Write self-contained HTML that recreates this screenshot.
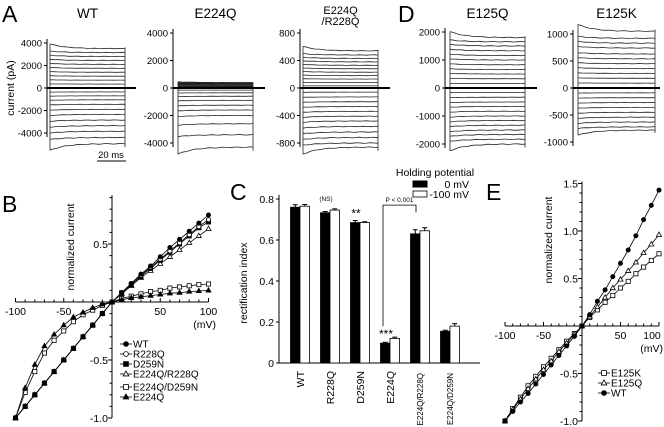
<!DOCTYPE html>
<html><head><meta charset="utf-8"><style>
html,body{margin:0;padding:0;background:#fff}
svg{display:block;font-family:"Liberation Sans",Arial,sans-serif}
</style></head><body>
<svg id="fig" width="664" height="427" viewBox="0 0 664 427" xmlns="http://www.w3.org/2000/svg">
<g font-size="23" fill="#000">
<text x="2" y="22">A</text>
<text x="398" y="22">D</text>
<text x="2" y="212">B</text>
<text x="230" y="200">C</text>
<text x="486" y="200">E</text>
</g>
<g id="traces"></g><g id="ivb"></g><g id="barc"></g><g id="ive"></g>
</svg>
<script>
// ---------- DATA ----------
const traceWT=[3500,3150,2800,2450,2100,1750,1400,1050,700,350,-350,-700,-1050,-1450,-1900,-2350,-2850,-3350,-3850,-4400,-4950];
const traceE224Q=[400,370,340,300,260,220,180,130,80,40,-150,-350,-600,-900,-1250,-1600,-2000,-2600,-3400,-4300];
const traceE224QR228Q=[540,480,430,380,330,280,230,180,130,80,30,-60,-130,-200,-270,-340,-410,-480,-560,-640,-720,-800,-860];
const traceE125Q=[1800,1650,1500,1330,1160,1000,830,660,500,330,160,-160,-330,-500,-660,-830,-1000,-1160,-1330,-1500,-1660,-1830,-2000];
const traceE125K=[1050,920,830,740,630,540,450,360,270,180,90,-90,-180,-270,-360,-450,-540,-630,-720,-780];
const mV=[-100,-90,-80,-70,-60,-50,-40,-30,-20,-10,0,10,20,30,40,50,60,70,80,90,100];
const bWT=[-1,-0.9,-0.8,-0.7,-0.6,-0.5,-0.4,-0.3,-0.2,-0.1,0,0.08,0.16,0.24,0.31,0.39,0.47,0.54,0.61,0.68,0.75];
const bR228Q=[-1,-0.9,-0.8,-0.7,-0.6,-0.5,-0.4,-0.3,-0.2,-0.1,0,0.08,0.16,0.23,0.3,0.37,0.44,0.51,0.58,0.65,0.71];
const bD259N=[-1,-0.9,-0.8,-0.7,-0.6,-0.5,-0.4,-0.3,-0.2,-0.1,0,0.08,0.15,0.22,0.29,0.36,0.43,0.5,0.57,0.64,0.69];
const bE224QR228Q=[-1,-0.9,-0.8,-0.7,-0.6,-0.5,-0.4,-0.3,-0.2,-0.1,0,0.07,0.14,0.21,0.27,0.33,0.39,0.45,0.51,0.57,0.63];
const bE224QD259N=[-1,-0.78,-0.6,-0.44,-0.33,-0.25,-0.17,-0.11,-0.07,-0.03,0,0.03,0.05,0.07,0.09,0.1,0.12,0.13,0.14,0.15,0.155];
const bE224Q=[-1,-0.74,-0.54,-0.38,-0.28,-0.2,-0.13,-0.09,-0.05,-0.02,0,0.02,0.035,0.045,0.055,0.065,0.075,0.08,0.09,0.095,0.1];
const cCats=["WT","R228Q","D259N","E224Q","E224Q/R228Q","E224Q/D259N"];
const c0mV=[0.76,0.733,0.685,0.097,0.63,0.155];
const c100mV=[0.765,0.746,0.685,0.12,0.645,0.18];
const cErr0=[0.012,0.006,0.01,0.004,0.02,0.005];
const cErr100=[0.008,0.006,0.004,0.006,0.015,0.012];
const eWT=[-1,-0.9,-0.8,-0.71,-0.61,-0.51,-0.41,-0.31,-0.21,-0.11,0,0.12,0.26,0.38,0.52,0.66,0.8,0.95,1.12,1.27,1.43];
const eE125Q=[-1,-0.88,-0.77,-0.66,-0.56,-0.46,-0.37,-0.27,-0.18,-0.09,0,0.1,0.2,0.3,0.4,0.49,0.58,0.67,0.77,0.86,0.96];
const eE125K=[-1,-0.87,-0.75,-0.63,-0.53,-0.43,-0.34,-0.25,-0.16,-0.08,0,0.09,0.17,0.25,0.32,0.4,0.47,0.55,0.62,0.69,0.76];
const NS="http://www.w3.org/2000/svg";
function mk(p,tag,at,txt){const e=document.createElementNS(NS,tag);for(const k in at)e.setAttribute(k,at[k]);if(txt!==undefined)e.textContent=txt;p.appendChild(e);return e;}
function tx(p,x,y,s,size,anchor,extra){const a=Object.assign({x:x,y:y,'font-size':size,'text-anchor':anchor||'start',fill:'#000'},extra||{});return mk(p,'text',a,s);}

// ---------- TRACES ----------
const T=document.getElementById('traces');
function tracePanel(name,title,ax,y0,pxPer,ticks,levels,x0,x1,zeroEnd){
  const g=mk(T,'g',{});
  
  
  const ys=v=>y0-v*pxPer;
  const lo=ys(ticks[ticks.length-1])+4, hi=ys(ticks[0])-4;
  const axl=mk(g,'line',{x1:ax,x2:ax,y1:hi,y2:lo,stroke:'#000','stroke-width':1});
  
  
  ticks.forEach(t=>{mk(g,'line',{x1:ax-3,x2:ax,y1:ys(t),y2:ys(t),stroke:'#000'});
    const l=tx(g,ax-5,ys(t)+3.5,String(t),9.5,'end');
    
    });
  let mx=-1e9,mn=1e9;
  levels.forEach((v,i)=>{const edge=(i===0||i===levels.length-1)?1.12:1.04;const a=v*edge;mx=Math.max(mx,a);mn=Math.min(mn,a);
    const pts=[];for(let k=0;k<=20;k++){const x=x0+(x1-x0)*k/20;const val=v+(a-v)*Math.exp(-k/4)+Math.sin(k*1.7+i)*Math.abs(v)*0.006;pts.push(x.toFixed(1)+','+ys(val).toFixed(1));}
    const pl=mk(g,'polyline',{points:pts.join(' '),fill:'none',stroke:'#222','stroke-width':0.8});
    
    });
  mk(g,'line',{x1:x0,x2:x0,y1:ys(mx),y2:ys(mn),stroke:'#222','stroke-width':0.8});
  mk(g,'line',{x1:x1,x2:x1,y1:ys(mx*0.92),y2:ys(mn*0.95),stroke:'#222','stroke-width':0.8});
  const z=mk(g,'line',{x1:ax,x2:zeroEnd,y1:y0,y2:y0,stroke:'#000','stroke-width':2});
  
  
  title.forEach((s,i)=>{const t=tx(g,(x0+x1)/2,18+(title.length>1?-4+i*11:0),s,title.length>1?11:13.5,'middle');
    
    });
}
tracePanel('wt',['WT'],47,88,11.25/1000,[4000,2000,0,-2000,-4000],traceWT,50,125,136);
tracePanel('e224q',['E224Q'],173,88,13.75/1000,[4000,2000,0,-2000,-4000],traceE224Q,178,253,265);
tracePanel('e224q-r228q',['E224Q','/R228Q'],300,88,55/800,[800,400,0,-400,-800],traceE224QR228Q,303,378,390);
tracePanel('e125q',['E125Q'],445,88,28/1000,[2000,1000,0,-1000,-2000],traceE125Q,450,525,537);
tracePanel('e125k',['E125K'],573,88,54/1000,[1000,500,0,-500,-1000],traceE125K,578,655,660);
(function(){const l=tx(T,14,88,'current (pA)',10.5,'middle',{transform:'rotate(-90 14 88)'});


const sb=mk(T,'line',{x1:97,x2:126,y1:161,y2:161,stroke:'#000','stroke-width':1});


const st=tx(T,111,158,'20 ms',9.5,'middle');

})();

// ---------- IV PLOT ----------
function marker(g,type,x,y,r){
  const f=type.fill?'#000':'#fff';
  if(type.s==='c')return mk(g,'circle',{cx:x,cy:y,r:r,fill:f,stroke:'#000','stroke-width':0.8});
  if(type.s==='s')return mk(g,'rect',{x:x-r,y:y-r,width:2*r,height:2*r,fill:f,stroke:'#000','stroke-width':0.8});
  return mk(g,'polygon',{points:`${x},${y-r-0.6} ${x-r-0.4},${y+r*0.8} ${x+r+0.4},${y+r*0.8}`,fill:f,stroke:'#000','stroke-width':0.8});
}
function ivPanel(G,name,ox,oy,pxX,pxY,yt,ytop,series,legend,xl,unitX){
  
  
  const sx=v=>ox+v*pxX, sy=v=>oy-v*pxY;
  mk(G,'line',{x1:sx(-100),x2:sx(100),y1:oy,y2:oy,stroke:'#000'});
  mk(G,'line',{x1:ox,x2:ox,y1:sy(ytop),y2:sy(-1),stroke:'#000'});
  for(let v=-100;v<=100;v+=10){mk(G,'line',{x1:sx(v),x2:sx(v),y1:oy,y2:oy-(v%50===0?4:2.5),stroke:'#000'});}
  [-100,-50,50,100].forEach(v=>{const t=tx(G,Math.min(sx(v),652),oy+13,String(v),10.5,'middle');
    
    });
  const u=tx(G,unitX,oy+26,'(mV)',10.5,'end');
  
  
  for(let v=-1;v<=ytop+0.001;v+=0.1){const big=Math.abs(v*2-Math.round(v*2))<0.01;mk(G,'line',{x1:ox-(big?4:2.5),x2:ox,y1:sy(v),y2:sy(v),stroke:'#000'});}
  yt.forEach(v=>{const t=tx(G,ox-4,sy(v)+4,v.toFixed(1),10.5,'end');
    
    });
  const yl=tx(G,xl[0],xl[1],'normalized current',10.5,'middle',{transform:`rotate(-90 ${xl[0]} ${xl[1]})`});
  
  
  series.forEach(s=>{const pts=mV.map((v,i)=>sx(v).toFixed(1)+','+sy(s.d[i]).toFixed(1)).join(' ');
    const pl=mk(G,'polyline',{points:pts,fill:'none',stroke:'#000','stroke-width':0.8});
    
    
    mV.forEach((v,i)=>{const m=marker(G,s.t,sx(v),sy(s.d[i]),2.1);
      
      });});
  legend.forEach(L=>{const s=series.find(q=>q.n===L.n);
    mk(G,'line',{x1:L.x,x2:L.x+12,y1:L.y,y2:L.y,stroke:'#000','stroke-width':0.8});
    marker(G,s.t,L.x+6,L.y,2.4);
    const t=tx(G,L.x+13,L.y+3.5,L.label,10,'start');
    
    });
}
const c=true,f=false;
ivPanel(document.getElementById('ivb'),'iv-plot-b',112,302,0.965,116,[0.5,-0.5,-1.0],0.92,[
 {n:'e224q-d259n',d:bE224QD259N,t:{s:'s',fill:f}},{n:'e224q',d:bE224Q,t:{s:'t',fill:c}},
 {n:'e224q-r228q',d:bE224QR228Q,t:{s:'t',fill:f}},{n:'d259n',d:bD259N,t:{s:'s',fill:c}},
 {n:'r228q',d:bR228Q,t:{s:'c',fill:f}},{n:'wt',d:bWT,t:{s:'c',fill:c}}],
 [{n:'wt',x:120,y:344,label:'WT'},{n:'r228q',x:120,y:354,label:'R228Q'},{n:'d259n',x:120,y:364,label:'D259N'},{n:'e224q-r228q',x:120,y:374,label:'E224Q/R228Q'},{n:'e224q-d259n',x:120,y:387,label:'E224Q/D259N'},{n:'e224q',x:120,y:397,label:'E224Q'}],[74,247],216);
ivPanel(document.getElementById('ive'),'iv-plot-e',582,326,0.77,95,[1.5,1.0,0.5,-0.5,-1.0],1.52,[
 {n:'e125k',d:eE125K,t:{s:'s',fill:f}},{n:'e125q',d:eE125Q,t:{s:'t',fill:f}},{n:'wt-e',d:eWT,t:{s:'c',fill:c}}],
 [{n:'e125k',x:598,y:373,label:'E125K'},{n:'e125q',x:598,y:383,label:'E125Q'},{n:'wt-e',x:598,y:393,label:'WT'}],[552,240],663);

// ---------- BAR CHART ----------
(function(){const G=document.getElementById('barc');


const ax=279,by=363,py=205,x0=300,dx=30,bw=9.5;const sy=v=>by-v*py;
mk(G,'line',{x1:ax,x2:ax,y1:sy(0.82),y2:by,stroke:'#000'});
mk(G,'line',{x1:ax,x2:480,y1:by,y2:by,stroke:'#000'});
[0,0.2,0.4,0.6,0.8].forEach(v=>{mk(G,'line',{x1:ax-3,x2:ax,y1:sy(v),y2:sy(v),stroke:'#000'});
 const t=tx(G,ax-5,sy(v)+4,v===0?'0':String(v),10.5,'end');
 
 });
const yl=tx(G,247,283,'rectification index',10.5,'middle',{transform:'rotate(-90 247 283)'});


cCats.forEach((cat,i)=>{const cx=x0+dx*i;
 [[c0mV,cErr0,'#000',-bw],[c100mV,cErr100,'#fff',0]].forEach(([arr,er,col,off],j)=>{
  const v=arr[i];const r=mk(G,'rect',{x:cx+off,y:sy(v),width:bw,height:by-sy(v),fill:col,stroke:'#000','stroke-width':0.8});
  
  
  const ex=cx+off+bw/2;mk(G,'line',{x1:ex,x2:ex,y1:sy(v),y2:sy(v+er[i]),stroke:'#000'});
  mk(G,'line',{x1:ex-2.5,x2:ex+2.5,y1:sy(v+er[i]),y2:sy(v+er[i]),stroke:'#000'});});
 const small=cat.length>6;
 const t=tx(G,cx+(small?3:4),by+(small?10:8),cat,small?8:10.5,'end',{transform:`rotate(-90 ${cx+(small?3:4)} ${by+(small?10:8)})`});
 
 });
const ns=tx(G,x0+dx-4,sy(c100mV[1])-9,'(NS)',6.5,'middle');
const s2=tx(G,x0+2*dx-4,sy(c0mV[2])-5,'**',12,'middle');
const s3=tx(G,x0+3*dx-4,sy(c0mV[3])-5,'***',12,'middle');
const bx1=x0+3*dx-7,bx2=x0+4*dx-4;
const br=mk(G,'polyline',{points:`${bx1},${sy(0.18)} ${bx1},${sy(0.77)} ${bx2},${sy(0.77)} ${bx2},${sy(0.735)}`,fill:'none',stroke:'#000','stroke-width':0.8});

const pv=tx(G,(bx1+bx2)/2,sy(0.77)-3,'P < 0.001',6.5,'middle');
const lt=tx(G,435,176,'Holding potential',10.5,'middle');
mk(G,'rect',{x:413,y:181,width:14,height:6,fill:'#000',stroke:'#000'});
const l1=tx(G,469,188,'0 mV',10.5,'end');
mk(G,'rect',{x:413,y:191,width:14,height:6,fill:'#fff',stroke:'#000','stroke-width':0.8});
const l2=tx(G,469,198,'-100 mV',10.5,'end');
})();
</script>
</body></html>
